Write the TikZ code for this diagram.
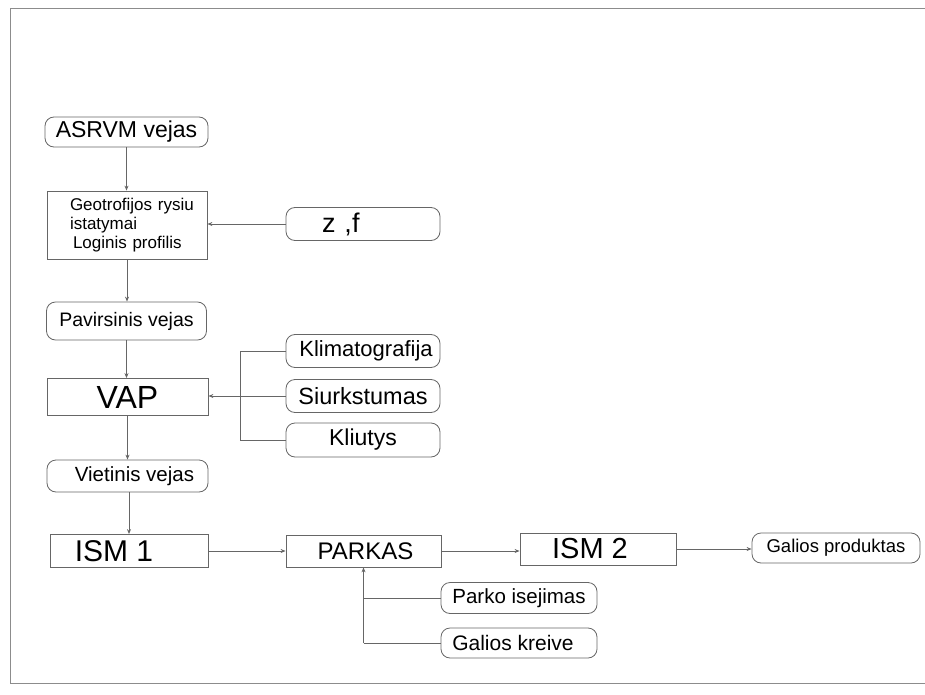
\documentclass[tikz,border=0pt]{standalone}
\usepackage{fontspec}
\setmainfont{Liberation Sans}
\usetikzlibrary{arrows.meta}
\newcommand{\fs}[1]{\fontsize{#1}{#1}\selectfont}
\begin{document}
\begin{tikzpicture}[x=1pt,y=-1pt,
  lin/.style={draw=black!60, line width=0.8pt},
  arr/.style={lin, -{Stealth[length=5pt,width=4pt]}},
  sqbox/.style={lin, rectangle, inner sep=0pt, align=center},
  rbox/.style={lin, rectangle, rounded corners=9pt, inner sep=0pt, align=center},
  frame/.style={draw=black!45, line width=0.8pt}]
\useasboundingbox (0,0) rectangle (925,695);
% frame
\draw[frame] (925,8) -- (10,8) -- (10,683) -- (925,683);
% nodes
\node[rbox, minimum width=163pt, minimum height=30pt, font=\fs{23}] (asrvm) at (126.5,132) {ASRVM vejas};
\node[sqbox, minimum width=160pt, minimum height=68pt, text width=140pt, align=left, font=\fontsize{17}{19}\selectfont] (geo) at (127,225)
  {\hspace*{13pt}Geotrofijos rysiu\\\hspace*{13pt}istatymai\\\hspace*{16pt}Loginis profilis};
\node[rbox, minimum width=154pt, minimum height=33pt, text width=154pt, align=left, font=\fs{27}] (zf) at (363,224) {\hspace*{36pt}z ,f};
\node[rbox, minimum width=160pt, minimum height=38pt, font=\fs{19.5}] (pav) at (126.5,321) {Pavirsinis vejas};
\node[sqbox, minimum width=161pt, minimum height=37pt, font=\fs{32}] (vap) at (127.5,397) {VAP};
\node[rbox, minimum width=154pt, minimum height=33pt, font=\fs{22}] (klim) at (363,351) {\hspace*{6pt}Klimatografija};
\node[rbox, minimum width=154pt, minimum height=33pt, font=\fs{23.5}] (siur) at (363,396) {Siurkstumas};
\node[rbox, minimum width=154pt, minimum height=34pt, font=\fs{23}] (kliu) at (363,440) {Kliutys};
\node[rbox, minimum width=161pt, minimum height=32pt, font=\fs{20.5}] (viet) at (127.5,476) {\hspace*{14pt}Vietinis vejas};
\node[sqbox, minimum width=158pt, minimum height=33pt, font=\fs{30}] (ism1) at (129,551) {ISM 1\hspace*{30pt}};
\node[sqbox, minimum width=155pt, minimum height=32pt, font=\fs{24}] (parkas) at (363.5,551) {\hspace*{4pt}PARKAS};
\node[sqbox, minimum width=156pt, minimum height=32pt, font=\fs{29}] (ism2) at (598,549) {ISM 2\hspace*{16pt}};
\node[rbox, minimum width=168pt, minimum height=30pt, font=\fs{18.5}] (galprod) at (836,548) {Galios produktas};
\node[rbox, minimum width=156pt, minimum height=31pt, font=\fs{20.5}] (parko) at (519,598) {Parko isejimas};
\node[rbox, minimum width=156pt, minimum height=30pt, font=\fs{21}] (galkr) at (519,643) {Galios kreive\hspace*{12pt}};
\coordinate (bx) at (240,0);
% connectors
\draw[arr] (asrvm.south) -- (asrvm.south |- geo.north);
\draw[arr] (zf.west) -- (zf.west -| geo.east);
\draw[arr] (geo.south) -- (geo.south |- pav.north);
\draw[arr] (pav.south) -- (pav.south |- vap.north);
\draw[arr] (vap.south) -- (vap.south |- viet.north);
\draw[arr] (ism1.north |- viet.south) -- (ism1.north);
\draw[arr] (ism1.east) -- (ism1.east -| parkas.west);
\draw[arr] (parkas.east) -- (parkas.east -| ism2.west);
\draw[arr] (ism2.east) -- (ism2.east -| galprod.west);
\draw[arr] (siur.west) -- (siur.west -| vap.east);
\draw[lin] (klim.west) -- (klim.west -| bx) -- (kliu.west -| bx) -- (kliu.west);
\draw[arr] (galkr.west -| parkas.south) -- (parkas.south);
\draw[lin] (parko.west -| parkas.south) -- (parko.west);
\draw[lin] (galkr.west -| parkas.south) -- (galkr.west);
\end{tikzpicture}
\end{document}
